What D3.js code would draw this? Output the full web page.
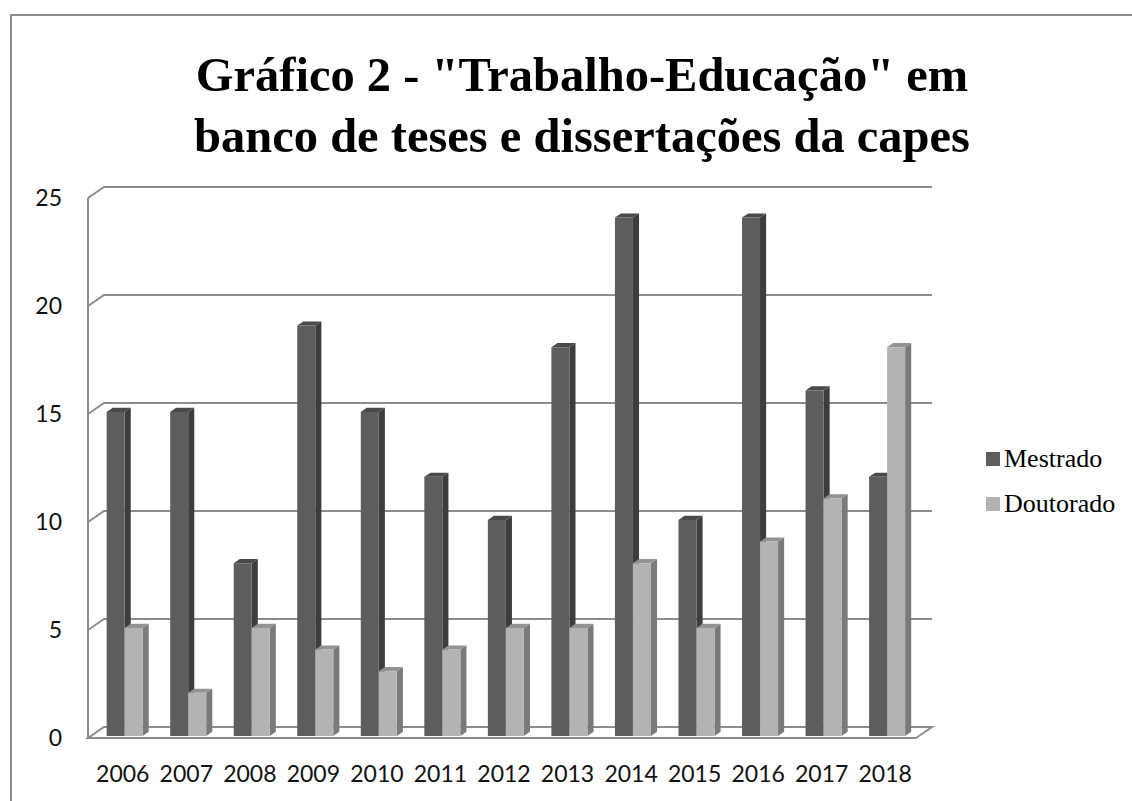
<!DOCTYPE html>
<html>
<head>
<meta charset="utf-8">
<script src="https://cdn.jsdelivr.net/npm/d3@7/dist/d3.min.js"></script>
<style>
  html, body { margin: 0; padding: 0; background: #fff; }
  svg { display: block; }
</style>
</head>
<body>
<svg id="chart" width="1132" height="801"></svg>
<script>
// Data: theses and dissertations per year
const years = ["2006","2007","2008","2009","2010","2011","2012","2013","2014","2015","2016","2017","2018"];
const seriesNames = ["Mestrado", "Doutorado"];
const mestrado = [15, 15, 8, 19, 15, 12, 10, 18, 24, 10, 24, 16, 12];
const doutorado = [5, 2, 5, 4, 3, 4, 5, 5, 8, 5, 9, 11, 18];
const yTicks = [0, 5, 10, 15, 20, 25];
const titleLines = ["Gráfico 2 - \"Trabalho-Educação\" em", "banco de teses e dissertações da capes"];

const seriesValues = { "Mestrado": mestrado, "Doutorado": doutorado };
const faceColors = {
  "Mestrado":  { front: "#5d5d5d", side: "#3d3d3d", top: "#4a4a4a" },
  "Doutorado": { front: "#b3b3b3", side: "#7a7a7a", top: "#939393" }
};

const svg = d3.select("#chart");

// Outer frame
svg.append("path")
  .attr("d", "M11,801 L11,15 L1132,15")
  .attr("fill", "none")
  .attr("stroke", "#8c8c8c")
  .attr("stroke-width", 2);

// Title
const title = svg.append("text")
  .attr("text-anchor", "middle")
  .attr("font-family", "'Liberation Serif', 'Times New Roman', serif")
  .attr("font-weight", "bold")
  .attr("font-size", 48.5)
  .attr("fill", "#000");
titleLines.forEach((t, i) => {
  title.append("tspan").attr("x", 582).attr("y", 91 + i * 61).text(t);
});

// 3D projection: depth z in [0,1] shifts points right and up
const DX = 16, DY = -11;
const plotLeft = 88, plotRight = 916;
const y = d3.scaleLinear().domain([0, 25]).range([738, 198]);
const x = d3.scaleBand().domain(years).range([90, 916]).paddingInner(0.433).paddingOuter(0.2165);
const xs = d3.scaleBand().domain(seriesNames).range([0, x.bandwidth()]);
const P = (px, py, z) => [px + DX * z, py + DY * z];
const poly = pts => "M" + pts.map(p => p.join(",")).join("L") + "Z";
const line = pts => "M" + pts.map(p => p.join(",")).join("L");

const gridColor = "#8c8c8c";

// Floor
svg.append("path")
  .attr("d", poly([P(plotLeft, y(0), 0), P(plotRight, y(0), 0), P(plotRight, y(0), 1), P(plotLeft, y(0), 1)]))
  .attr("fill", "#fff")
  .attr("stroke", gridColor)
  .attr("stroke-width", 2);

// Gridlines: side-wall diagonal plus back-wall horizontal
svg.append("g").selectAll("path")
  .data(yTicks.filter(t => t > 0))
  .join("path")
  .attr("d", t => line([P(plotLeft, y(t), 0), P(plotLeft, y(t), 1), P(plotRight, y(t), 1)]))
  .attr("fill", "none")
  .attr("stroke", gridColor)
  .attr("stroke-width", 2);

// Front value axis
svg.append("line")
  .attr("x1", plotLeft).attr("x2", plotLeft)
  .attr("y1", y(25)).attr("y2", y(0))
  .attr("stroke", gridColor)
  .attr("stroke-width", 2);

// Y tick labels
svg.append("g").selectAll("text")
  .data(yTicks)
  .join("text")
  .attr("x", 62)
  .attr("y", t => y(t))
  .attr("dy", "0.35em")
  .attr("text-anchor", "end")
  .attr("font-family", "Lato, 'Open Sans', sans-serif")
  .attr("font-size", 23)
  .attr("fill", "#111")
  .text(t => t);

// X tick labels
svg.append("g").selectAll("text")
  .data(years)
  .join("text")
  .attr("x", d => x(d) + x.bandwidth() / 2 + 1)
  .attr("y", 782)
  .attr("text-anchor", "middle")
  .attr("font-family", "Lato, 'Open Sans', sans-serif")
  .attr("font-size", 23)
  .attr("fill", "#111")
  .text(d => d);

// Bars as 3D prisms, drawn left to right so fronts overlap neighbours' sides
const z0 = 0.18, z1 = 0.56;
const bars = [];
years.forEach((yr, i) => {
  seriesNames.forEach(s => bars.push({ year: yr, series: s, value: seriesValues[s][i] }));
});
const barG = svg.append("g").selectAll("g")
  .data(bars)
  .join("g");

barG.append("path") // side face
  .attr("d", d => {
    const xr = x(d.year) + xs(d.series) + xs.bandwidth();
    return poly([P(xr, y(d.value), z0), P(xr, y(d.value), z1), P(xr, y(0), z1), P(xr, y(0), z0)]);
  })
  .attr("fill", d => faceColors[d.series].side);

barG.append("path") // top face
  .attr("d", d => {
    const xl = x(d.year) + xs(d.series), xr = xl + xs.bandwidth();
    return poly([P(xl, y(d.value), z0), P(xr, y(d.value), z0), P(xr, y(d.value), z1), P(xl, y(d.value), z1)]);
  })
  .attr("fill", d => faceColors[d.series].top);

barG.append("path") // front face
  .attr("d", d => {
    const xl = x(d.year) + xs(d.series), xr = xl + xs.bandwidth();
    return poly([P(xl, y(d.value), z0), P(xr, y(d.value), z0), P(xr, y(0), z0), P(xl, y(0), z0)]);
  })
  .attr("fill", d => faceColors[d.series].front);

// Legend
const legend = svg.append("g").selectAll("g")
  .data(seriesNames)
  .join("g")
  .attr("transform", (d, i) => `translate(986, ${452 + i * 45})`);
legend.append("rect")
  .attr("width", 14).attr("height", 14)
  .attr("fill", d => faceColors[d].front);
legend.append("text")
  .attr("x", 18)
  .attr("y", 15)
  .attr("font-family", "'Liberation Serif', 'Times New Roman', serif")
  .attr("font-size", 26)
  .attr("fill", "#000")
  .text(d => d);
</script>
</body>
</html>
